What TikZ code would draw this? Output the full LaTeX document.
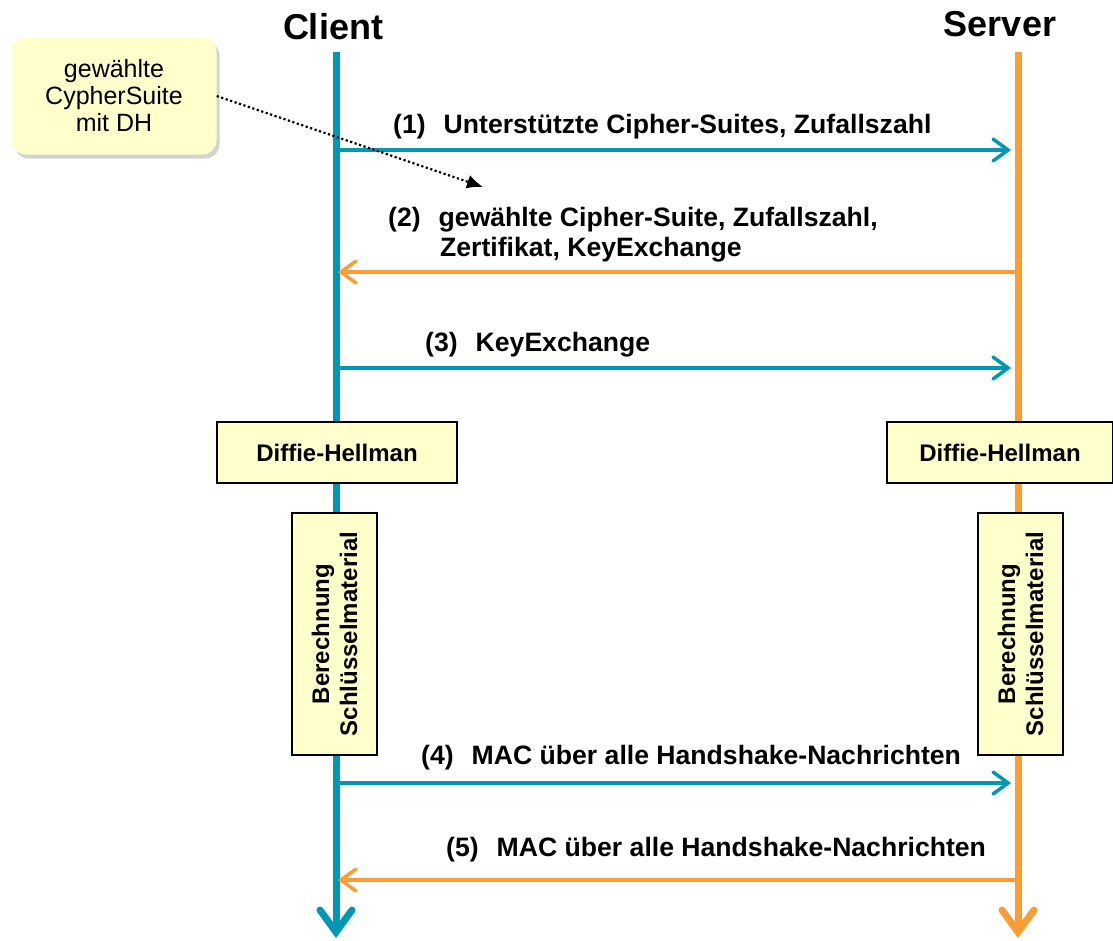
\documentclass[tikz,border=0pt]{standalone}
\usepackage{fontspec}
\setmainfont{Liberation Sans}
\usetikzlibrary{arrows.meta,shadows}
\definecolor{clientblue}{RGB}{0,150,182}
\definecolor{serverorange}{RGB}{252,156,52}
\definecolor{boxyellow}{RGB}{255,255,204}

\begin{document}
\begin{tikzpicture}[
x=1pt,y=-1pt,
title/.style={
  font=\fontsize{36}{40}\bfseries\selectfont
  },
lifeline/.style={
  line width=7pt,
  -{Straight Barb[length=22pt,width=32pt,line cap=round]}
  },
msg/.style={
  line width=3.5pt,
  -{Straight Barb[length=15pt,width=22pt,line cap=round]}
  },
msglabel/.style={
  anchor=base west,
  inner sep=0pt,
  align=left,
  font=\fontsize{26.6}{30}\bfseries\selectfont
  },
procbox/.style={
  draw,
  line width=1.5pt,
  fill=boxyellow,
  align=center,
  font=\fontsize{24}{28}\bfseries\selectfont
  },
notebox/.style={
  fill=boxyellow,
  rounded corners=14pt,
  align=center,
  minimum width=205pt,
  minimum height=117pt,
  drop shadow={shadow xshift=3pt,shadow yshift=-4pt,opacity=0.35},
  font=\fontsize{25}{27}\selectfont
  }
]
\useasboundingbox (0,0) rectangle (1113,940);

\node[title] (client) at (333,27) {Client};
\node[title] (server) at (1000,24) {Server};

\coordinate (ctop) at (336,52);
\coordinate (cbot) at (336,938);
\coordinate (stop) at (1018,52);
\coordinate (sbot) at (1018,938);
\draw[lifeline,clientblue] (ctop) -- (cbot);
\draw[lifeline,serverorange] (stop) -- (sbot);

\foreach \Step/\Y in {1/150,2/272,3/368,4/783,5/880}{
  \coordinate (c\Step) at (336,\Y);
  \coordinate (s\Step) at (1018,\Y);
}

\draw[msg,clientblue,shorten <=4pt,shorten >=7pt] (c1) -- (s1);
\draw[msg,serverorange,shorten <=3pt,shorten >=2pt] (s2) -- (c2);
\draw[msg,clientblue,shorten <=4pt,shorten >=7pt] (c3) -- (s3);
\draw[msg,clientblue,shorten <=4pt,shorten >=7pt] (c4) -- (s4);
\draw[msg,serverorange,shorten <=3pt,shorten >=2pt] (s5) -- (c5);

\node[msglabel] (l1) at (393,133) {(1)\hspace{0.4em} Unterstützte Cipher-Suites, Zufallszahl};
\node[msglabel] (l2) at (388,256) {(2)\hspace{0.4em} gewählte Cipher-Suite, Zufallszahl,\\
  \hspace{52pt}Zertifikat, KeyExchange};
\node[msglabel] (l3) at (425,351) {(3)\hspace{0.4em} KeyExchange};
\node[msglabel] (l4) at (421,764) {(4)\hspace{0.4em} MAC über alle Handshake-Nachrichten};
\node[msglabel] (l5) at (446,856) {(5)\hspace{0.4em} MAC über alle Handshake-Nachrichten};

\node[procbox,minimum width=240pt,minimum height=61pt] (cdh) at (337,452.5) {Diffie-Hellman};
\node[procbox,minimum width=226pt,minimum height=61pt] (sdh) at (1000,452.5) {Diffie-Hellman};
\node[procbox,rotate=90,minimum width=242pt,minimum height=85pt] (ckey) at (334.5,634) {Berechnung\\Schlüsselmaterial};
\node[procbox,rotate=90,minimum width=242pt,minimum height=85pt] (skey) at (1020.5,634) {Berechnung\\Schlüsselmaterial};

\node[notebox] (note) at (114,96) {gewählte\\CypherSuite\\mit DH};
\coordinate (notetip) at (483,187);
\draw[line width=2.2pt,dash pattern=on 2.2pt off 2.5pt,-{Latex[length=16pt,width=14pt]}] (note.east) -- (notetip);
\end{tikzpicture}
\end{document}
